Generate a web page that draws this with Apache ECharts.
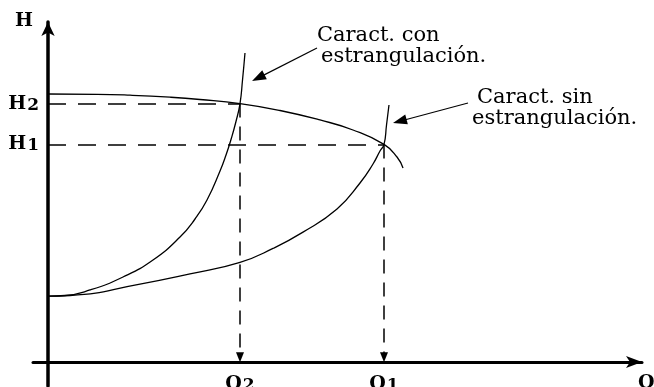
<!DOCTYPE html>
<html>
<head>
<meta charset="utf-8">
<script src="https://cdn.jsdelivr.net/npm/echarts@6/dist/echarts.min.js"></script>
<style>
  html, body { margin: 0; padding: 0; background: #fff; }
  #chart { width: 654px; height: 387px; }
</style>
</head>
<body>
<div id="chart"></div>
<script>
// Pump head curve H(Q)
const pumpCurve = [
  [0, 78.82], [8.17, 78.74], [13.67, 78.47], [20.33, 77.88], [25.33, 77.21], [32, 76],
  [38.67, 73.97], [45.33, 71.18], [50.83, 68.24], [56, 64], [58.17, 60.29], [59.17, 57.06]
];
// System curve without throttling
const systemOpen = [
  [0, 19.4], [3.67, 19.56], [15.33, 22.9], [23.67, 25.9], [32, 29.3], [37.5, 33.4],
  [42.5, 38.2], [48.17, 45], [52, 52.65], [54.17, 58.24], [55.33, 62.06], [56, 64],
  [56.42, 69.71], [56.83, 75.59]
];
// System curve with throttling
const systemThrottled = [
  [0, 19.4], [2.83, 19.56], [7, 21.18], [12.5, 25], [17.5, 30], [22, 36.76], [24.5, 42.06],
  [26.5, 47.65], [28.67, 56.18], [29.67, 60.88], [30.5, 65.44], [31.33, 70.74], [32, 76],
  [32.42, 82.94], [32.83, 90.88]
];
// Operating points: [Q, H]
const pointThrottled = [32, 76];   // Q2, H2
const pointOpen = [56, 64];        // Q1, H1

const qTicks = [pointThrottled[0], pointOpen[0]];
const qTickLabels = ['Q|2', 'Q|1'];
const hTicks = [pointThrottled[1], pointOpen[1]];
const hTickLabels = ['H|2', 'H|1'];

// Callout notes: text anchor (top-left), arrow start, arrowhead centre
const noteThrottled = { lines: ['Caract. con', 'estrangulación.'], anchor: [44.83, 98.97], from: [44.83, 92.35], to: [35.05, 83.56] };
const noteOpen = { lines: ['Caract. sin', 'estrangulación.'], anchor: [70.67, 81.0], from: [70.0, 76.18], to: [58.63, 70.82] };

const serif = 'DejaVu Serif';
const ink = '#000';

function subLabel(s) {
  const [main, sub] = s.split('|');
  return '{m|' + main + '}{s|' + sub + '}';
}
const subRich = {
  m: { fontFamily: serif, fontWeight: 'bold', fontSize: 19, color: ink },
  s: { fontFamily: serif, fontWeight: 'bold', fontSize: 17, color: ink, padding: [3, 0, 0, 1] }
};

function noteMarkers(note, indentFirst, indentSecond) {
  return {
    markLine: {
      silent: true,
      animation: false,
      symbol: ['none', 'triangle'],
      symbolSize: [10, 14],
      lineStyle: { color: ink, width: 1.2, type: 'solid' },
      label: { show: false },
      data: [[{ coord: note.from }, { coord: note.to }]]
    },
    markPoint: {
      silent: true,
      animation: false,
      symbol: 'circle',
      symbolSize: 0,
      data: [{
        coord: note.anchor,
        label: {
          show: true,
          position: [0, 0],
          align: 'left',
          verticalAlign: 'top',
          formatter: '{a|' + note.lines[0] + '}\n{b|' + note.lines[1] + '}',
          rich: {
            a: { fontFamily: serif, fontSize: 21, lineHeight: 21, color: ink, padding: [0, 0, 0, indentFirst] },
            b: { fontFamily: serif, fontSize: 21, lineHeight: 21, color: ink, padding: [0, 0, 0, indentSecond] }
          }
        }
      }]
    }
  };
}

const chart = echarts.init(document.getElementById('chart'), null, { renderer: 'canvas' });

const curveBase = {
  type: 'line',
  smooth: 0.5,
  showSymbol: false,
  silent: true,
  lineStyle: { color: ink, width: 1.3 }
};

const option = {
  backgroundColor: '#fff',
  animation: false,
  grid: { left: 33, right: 12, top: 22, bottom: 1.2, outerBoundsMode: 'none' },
  xAxis: {
    type: 'value',
    min: -2.5,
    max: 99,
    name: 'Q',
    nameLocation: 'end',
    nameGap: -4,
    nameTextStyle: { fontFamily: serif, fontWeight: 'bold', fontSize: 19, color: ink, align: 'left', verticalAlign: 'top', padding: [12, 0, 0, 0] },
    axisLine: { onZero: true, symbol: ['none', 'arrow'], symbolSize: [9, 16], lineStyle: { color: ink, width: 3 } },
    axisTick: { show: false },
    splitLine: { show: false },
    axisLabel: {
      customValues: qTicks,
      margin: -12,
      verticalAlign: 'top',
      formatter: v => subLabel(qTickLabels[qTicks.indexOf(v)]),
      rich: subRich
    }
  },
  yAxis: {
    type: 'value',
    min: -7,
    max: 100,
    name: 'H',
    nameLocation: 'end',
    nameGap: 1,
    nameTextStyle: { fontFamily: serif, fontWeight: 'bold', fontSize: 19, color: ink, align: 'right', verticalAlign: 'middle', padding: [0, 15, 0, 0] },
    axisLine: { onZero: true, symbol: ['none', 'arrow'], symbolSize: [10, 14], lineStyle: { color: ink, width: 3.5 } },
    axisTick: { show: false },
    splitLine: { show: false },
    axisLabel: {
      customValues: hTicks,
      margin: -6,
      formatter: v => subLabel(hTickLabels[hTicks.indexOf(v)]),
      rich: subRich
    }
  },
  series: [
    Object.assign({}, curveBase, {
      name: 'Bomba',
      data: pumpCurve,
      markLine: {
        silent: true,
        animation: false,
        symbol: 'none',
        label: { show: false },
        lineStyle: { color: ink, width: 1.5, type: [18, 12] },
        data: [
          [{ coord: [0, pointThrottled[1]] }, { coord: pointThrottled }],
          [{ coord: [0, pointOpen[1]] }, { coord: pointOpen }],
          [{ coord: pointThrottled, lineStyle: { type: [14, 9] } },
           { coord: [pointThrottled[0], 1.4], symbol: 'triangle', symbolSize: [8, 10] }],
          [{ coord: pointOpen, lineStyle: { type: [14, 9] } },
           { coord: [pointOpen[0], 1.4], symbol: 'triangle', symbolSize: [8, 10] }]
        ]
      }
    }),
    Object.assign({}, curveBase, {
      name: 'Caract. con estrangulación',
      data: systemThrottled
    }, noteMarkers(noteThrottled, 0, 4)),
    Object.assign({}, curveBase, {
      name: 'Caract. sin estrangulación',
      data: systemOpen
    }, noteMarkers(noteOpen, 5, 0))
  ]
};

chart.setOption(option);
</script>
</body>
</html>
